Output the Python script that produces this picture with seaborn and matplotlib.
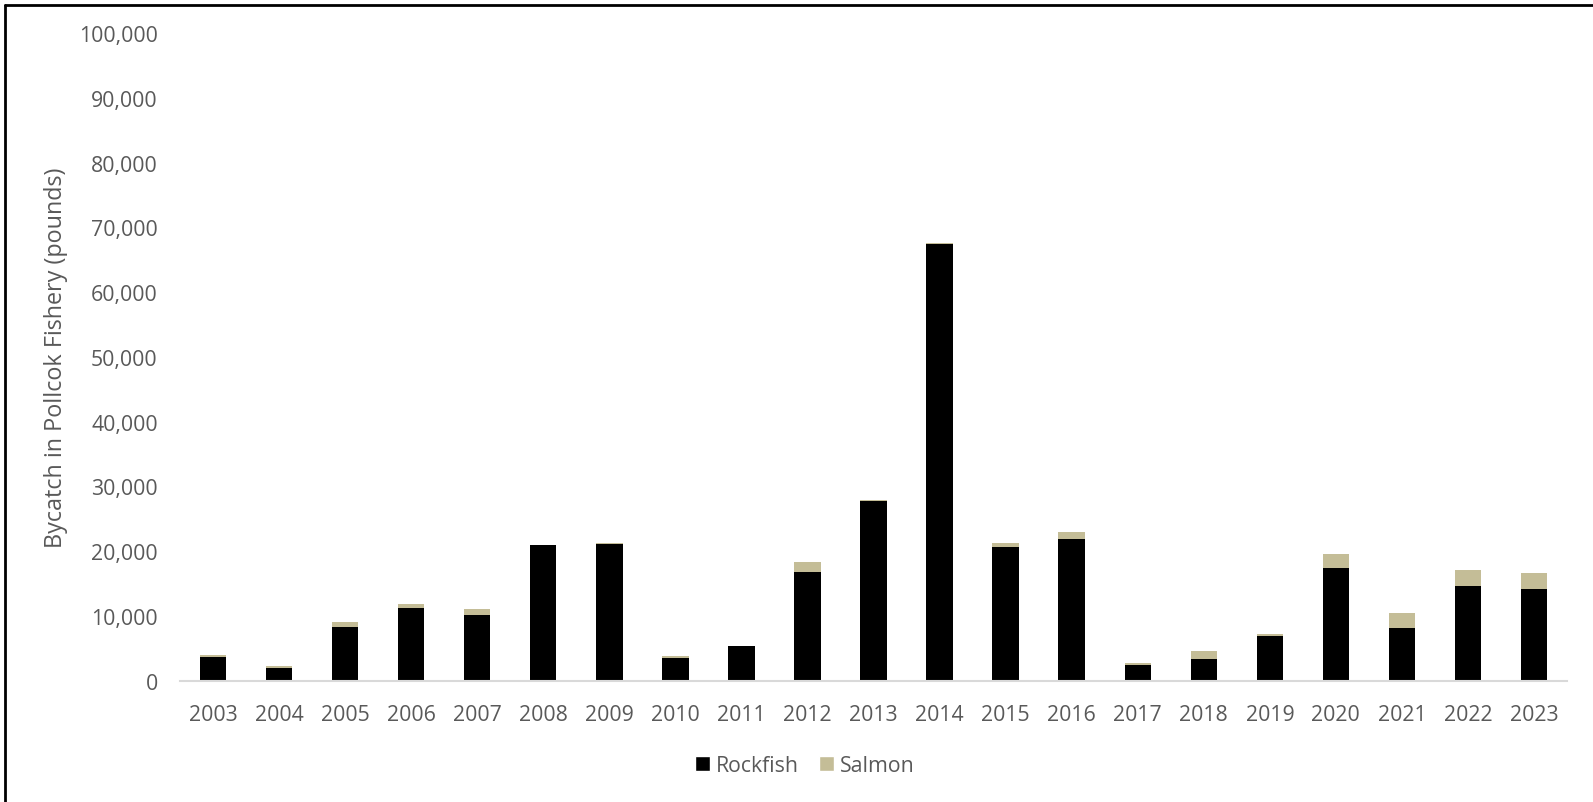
import matplotlib
matplotlib.use("Agg")
import matplotlib.pyplot as plt
import seaborn as sns
import pandas as pd
from matplotlib.lines import Line2D
from matplotlib.patches import Patch
from matplotlib.ticker import FuncFormatter

years = [str(y) for y in range(2003, 2024)]
rockfish = [3700, 2000, 8250, 11200, 10200, 20900, 21100, 3550, 5300, 16850,
            27800, 67450, 20650, 21900, 2450, 3350, 6950, 17350, 8150, 14650, 14150]
salmon = [250, 250, 800, 700, 900, 0, 150, 250, 50, 1500,
          100, 200, 550, 1100, 250, 1250, 250, 2250, 2300, 2500, 2500]

rock_color = "#000000"
salmon_color = "#c4bd97"
text_color = "#595959"

df = pd.DataFrame({"year": years, "Rockfish": rockfish, "Salmon": salmon})
df["total"] = df["Rockfish"] + df["Salmon"]

sns.set_style("white")
plt.rcParams["font.family"] = ["Open Sans", "DejaVu Sans"]

fig = plt.figure(figsize=(15.93, 8.03), dpi=100)
ax = fig.add_axes([0.113, 0.151, 0.8707, 0.8067])

# stacked: draw total (salmon colour) then rockfish on top of it
sns.barplot(data=df, x="year", y="total", color=salmon_color, width=0.4,
            saturation=1, edgecolor="none", ax=ax)
sns.barplot(data=df, x="year", y="Rockfish", color=rock_color, width=0.4,
            saturation=1, edgecolor="none", ax=ax)

ax.set_xlim(-0.5, len(years) - 0.5)
ax.set_ylim(0, 100000)
ax.set_yticks(range(0, 100001, 10000))
ax.yaxis.set_major_formatter(FuncFormatter(lambda v, p: f"{int(v):,}"))
ax.tick_params(axis="both", length=0, labelsize=15.3, colors=text_color)
ax.tick_params(axis="x", pad=17)
ax.tick_params(axis="y", pad=16)
ax.set_xlabel("")
ax.set_ylabel("Bycatch in Pollcok Fishery (pounds)", fontsize=16.8, color=text_color,
              labelpad=8)

for s in ["top", "right", "left"]:
    ax.spines[s].set_visible(False)
ax.spines["bottom"].set_color("#d9d9d9")
ax.spines["bottom"].set_linewidth(1.5)

handles = [Patch(facecolor=rock_color, label="Rockfish"),
           Patch(facecolor=salmon_color, label="Salmon")]
fig.legend(handles=handles, loc="center", bbox_to_anchor=(0.5055, 0.045), ncol=2,
           frameon=False, fontsize=15.3, labelcolor=text_color,
           handlelength=0.7, handleheight=0.7, handletextpad=0.28, columnspacing=0.95)

# thin frame on the left and top edges of the picture
fig.add_artist(Line2D([0.003, 0.003], [0, 0.993], transform=fig.transFigure,
                      color="black", lw=2))
fig.add_artist(Line2D([0.003, 1.0], [0.993, 0.993], transform=fig.transFigure,
                      color="black", lw=2))

fig.savefig("out.png", dpi=100)
